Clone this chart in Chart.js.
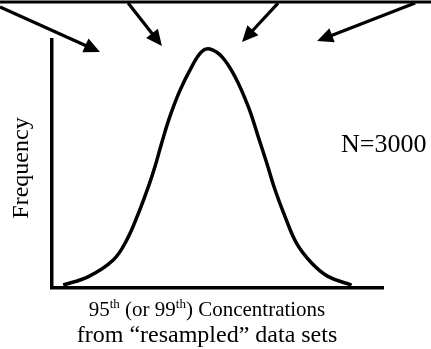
<!DOCTYPE html>
<html>
<head>
<meta charset="utf-8">
<script src="https://cdn.jsdelivr.net/npm/chart.js@4.4.0/dist/chart.umd.min.js"></script>
<style>
  html, body { margin: 0; padding: 0; background: #ffffff; }
  #wrap { width: 431px; height: 349px; position: relative; }
</style>
</head>
<body>
<div id="wrap"><canvas id="c" width="431" height="349"></canvas></div>
<script>
// Frequency distribution of resampled percentile concentrations (arbitrary units)
const concentration = [3.4, 11.0, 18.5, 22.6, 26.1, 29.1, 31.1, 33.1, 35.6, 38.7, 42.2, 45.2, 47.7,
                       51.3, 55.3, 59.3, 62.3, 64.9, 67.4, 70.4, 73.9, 78.5, 83.5, 90.5];
const frequency     = [1.2, 4.6, 11.3, 19.4, 30.1, 40.8, 48.9, 58.3, 69.1, 79.8, 89.2, 95.3, 96.4,
                       93.3, 85.2, 73.1, 61.0, 50.3, 39.5, 28.8, 18.0, 10.0, 4.6, 1.2];

// Resampled data sets feeding the distribution, drawn from the source rule at the top
const arrowStartX = [-15.7, 23.0, 68.3, 109.7];
const arrowStartY = [113.3, 114.9, 114.9, 114.9];
const arrowEndX   = [14.5, 33.2, 57.4, 80.1];
const arrowEndY   = [95.2, 97.6, 99.2, 99.6];
const sourceRuleY = 115.3;

// Text
const yTitle = 'Frequency';
const sampleLabel = 'N=3000';
const xTitleLine1 = [['95', false], ['th', true], [' (or 99', false], ['th', true], [') Concentrations', false]];
const xTitleLine2 = 'from \u201cresampled\u201d data sets';

const SERIF = '"Liberation Serif", "Times New Roman", serif';

const decorations = {
  id: 'decorations',
  afterDraw(chart) {
    const ctx = chart.ctx;
    const xs = chart.scales.x, ys = chart.scales.y;
    ctx.save();
    ctx.strokeStyle = '#000';
    ctx.fillStyle = '#000';

    // source rule
    const ry = ys.getPixelForValue(sourceRuleY);
    ctx.lineWidth = 3;
    ctx.beginPath();
    ctx.moveTo(0, ry);
    ctx.lineTo(chart.width, ry);
    ctx.stroke();

    // arrows
    const headLen = 16, headHalf = 7.5;
    for (let i = 0; i < arrowStartX.length; i++) {
      const x1 = xs.getPixelForValue(arrowStartX[i]), y1 = ys.getPixelForValue(arrowStartY[i]);
      const x2 = xs.getPixelForValue(arrowEndX[i]), y2 = ys.getPixelForValue(arrowEndY[i]);
      const a = Math.atan2(y2 - y1, x2 - x1);
      const bx = x2 - headLen * Math.cos(a), by = y2 - headLen * Math.sin(a);
      ctx.lineWidth = 3.2;
      ctx.beginPath();
      ctx.moveTo(x1, y1);
      ctx.lineTo(bx + 2 * Math.cos(a), by + 2 * Math.sin(a));
      ctx.stroke();
      ctx.beginPath();
      ctx.moveTo(x2, y2);
      ctx.lineTo(bx + headHalf * Math.sin(a), by - headHalf * Math.cos(a));
      ctx.lineTo(bx - headHalf * Math.sin(a), by + headHalf * Math.cos(a));
      ctx.closePath();
      ctx.fill();
    }

    // y title
    ctx.font = '24px ' + SERIF;
    ctx.textAlign = 'center';
    ctx.textBaseline = 'alphabetic';
    ctx.save();
    ctx.translate(28, 168);
    ctx.rotate(-Math.PI / 2);
    ctx.fillText(yTitle, 0, 0);
    ctx.restore();

    // sample size
    ctx.font = '26px ' + SERIF;
    ctx.textAlign = 'left';
    ctx.fillText(sampleLabel, 341, 152);

    // x title, first line with superscripts
    const base1 = '21px ' + SERIF, sup = '13px ' + SERIF;
    let w = 0;
    for (const [t, s] of xTitleLine1) { ctx.font = s ? sup : base1; w += ctx.measureText(t).width; }
    const cx = 207;
    let x = cx - w / 2;
    ctx.textAlign = 'left';
    for (const [t, s] of xTitleLine1) {
      ctx.font = s ? sup : base1;
      ctx.fillText(t, x, s ? 308 : 316);
      x += ctx.measureText(t).width;
    }
    ctx.font = '24px ' + SERIF;
    ctx.textAlign = 'center';
    ctx.fillText(xTitleLine2, cx, 342);
    ctx.restore();
  }
};

new Chart(document.getElementById('c'), {
  type: 'line',
  data: {
    datasets: [{
      data: concentration.map((c, i) => ({ x: c, y: frequency[i] })),
      borderColor: '#000',
      borderWidth: 3.5,
      pointRadius: 0,
      fill: false,
      tension: 0.4
    }]
  },
  options: {
    responsive: false,
    animation: false,
    devicePixelRatio: 1,
    layout: { padding: { left: 52, right: 48, top: 40, bottom: 61 } },
    plugins: { legend: { display: false }, tooltip: { enabled: false }, title: { display: false } },
    scales: {
      x: {
        type: 'linear', min: 0, max: 100,
        grid: { display: false },
        ticks: { display: false },
        border: { display: true, color: '#000', width: 3.5 },
        afterFit(scale) { scale.height = 0; }
      },
      y: {
        type: 'linear', min: 0, max: 100,
        grid: { display: false },
        ticks: { display: false },
        border: { display: true, color: '#000', width: 3.5 },
        afterFit(scale) { scale.width = 0; }
      }
    }
  },
  plugins: [decorations]
});
</script>
</body>
</html>
